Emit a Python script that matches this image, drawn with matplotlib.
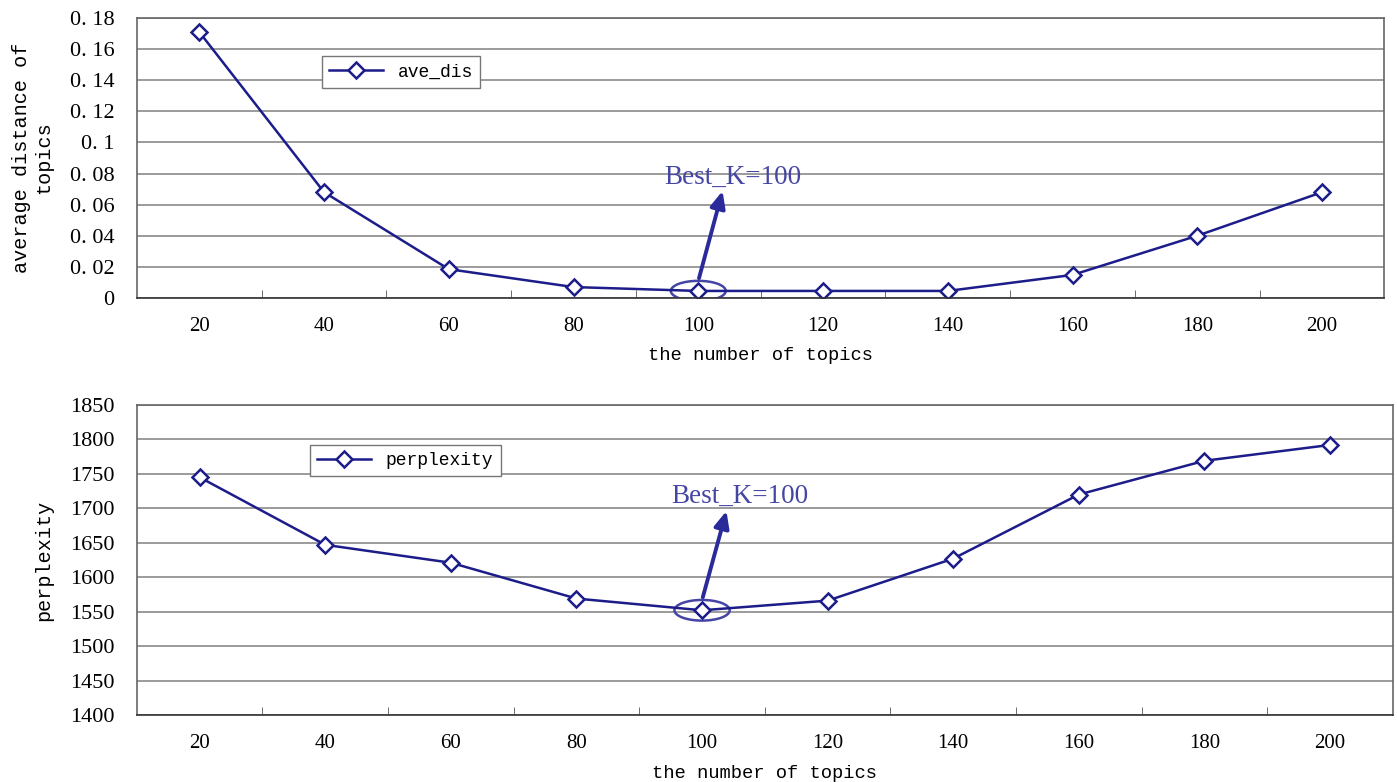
import matplotlib
matplotlib.use("Agg")
import matplotlib.pyplot as plt
from matplotlib.patches import Ellipse

topics = [20, 40, 60, 80, 100, 120, 140, 160, 180, 200]
ave_dis = [0.171, 0.068, 0.0185, 0.007, 0.0045, 0.0045, 0.0045, 0.0148, 0.040, 0.068]
perplexity = [1745, 1647, 1621, 1569, 1552, 1566, 1627, 1720, 1769, 1792]
dis_ticks = [0, 0.02, 0.04, 0.06, 0.08, 0.1, 0.12, 0.14, 0.16, 0.18]
dis_labels = ["0", "0. 02", "0. 04", "0. 06", "0. 08", "0. 1", "0. 12", "0. 14", "0. 16", "0. 18"]
perp_ticks = [1400, 1450, 1500, 1550, 1600, 1650, 1700, 1750, 1800, 1850]
best_k = 100

line_col = "#1c1c8a"
note_col = "#4545a5"
grid_col = "#8a8a8a"
serif = "Liberation Serif"
mono = "Liberation Mono"

fig = plt.figure(figsize=(13.97, 7.82), dpi=100)
ax1 = fig.add_axes([0.098, 0.619, 0.893, 0.358])
ax2 = fig.add_axes([0.098, 0.0857, 0.899, 0.3964])

pos = list(range(len(topics)))
ib = topics.index(best_k)


def style(ax, yticks, ylabels, ylim):
    ax.set_xlim(-0.5, len(topics) - 0.5)
    ax.set_ylim(*ylim)
    ax.set_yticks(yticks)
    ax.set_yticklabels(ylabels, fontsize=16, family=serif)
    ax.set_xticks(pos)
    ax.set_xticklabels([str(t) for t in topics], fontsize=15, family=serif)
    ax.set_xticks([p + 0.5 for p in pos[:-1]], minor=True)
    ax.tick_params(axis="x", which="major", length=0, pad=14)
    ax.tick_params(axis="x", which="minor", direction="in", length=6, color="#555555")
    ax.tick_params(axis="y", length=0, pad=16)
    ax.yaxis.grid(True, color=grid_col, linewidth=1.2)
    ax.set_axisbelow(True)
    for s in ax.spines.values():
        s.set_color("#666666")
        s.set_linewidth(1.2)
    ax.spines["bottom"].set_color("#333333")
    ax.set_xlabel("the number of topics", fontsize=13.5, family=mono, labelpad=8)


arrow = dict(arrowstyle="-|>,head_length=1.0,head_width=0.45", color="#2a2a9a", lw=2.8)

# top panel
ax1.plot(pos, ave_dis, color=line_col, lw=1.8, marker="D", ms=8, mfc="white",
         mec=line_col, mew=1.8, label="ave_dis")
style(ax1, dis_ticks, dis_labels, (0, 0.18))
ax1.set_ylabel("average distance of\ntopics", fontsize=14.5, family=mono, labelpad=12)
ax1.add_patch(Ellipse((pos[ib], ave_dis[ib]), 0.44, 0.013, fill=False,
                      edgecolor=note_col, lw=1.8))
ax1.annotate("", xy=(pos[ib] + 0.2, 0.0705), xytext=(pos[ib], ave_dis[ib] + 0.0065),
             arrowprops=arrow)
ax1.text(pos[ib] + 0.28, 0.0775, "Best_K=100", fontsize=19.5, family=serif,
         color=note_col, ha="center", va="center")
ax1.legend(loc="upper left", bbox_to_anchor=(0.141, 0.895), fancybox=False,
           prop=dict(family=mono, size=13), handlelength=3, borderpad=0.4,
           edgecolor="#777777", framealpha=1)

# bottom panel
ax2.plot(pos, perplexity, color=line_col, lw=1.8, marker="D", ms=8, mfc="white",
         mec=line_col, mew=1.8, label="perplexity")
style(ax2, perp_ticks, [str(t) for t in perp_ticks], (1400, 1850))
ax2.set_ylabel("perplexity", fontsize=14.5, family=mono, labelpad=12)
ax2.add_patch(Ellipse((pos[ib], perplexity[ib]), 0.44, 30, fill=False,
                      edgecolor=note_col, lw=1.8))
ax2.annotate("", xy=(pos[ib] + 0.2, 1700), xytext=(pos[ib], perplexity[ib] + 15),
             arrowprops=arrow)
ax2.text(pos[ib] + 0.3, 1718, "Best_K=100", fontsize=19.5, family=serif,
         color=note_col, ha="center", va="center")
ax2.legend(loc="upper left", bbox_to_anchor=(0.1306, 0.9), fancybox=False,
           prop=dict(family=mono, size=13), handlelength=3, borderpad=0.4,
           edgecolor="#777777", framealpha=1)

fig.savefig("out.png", dpi=100)
